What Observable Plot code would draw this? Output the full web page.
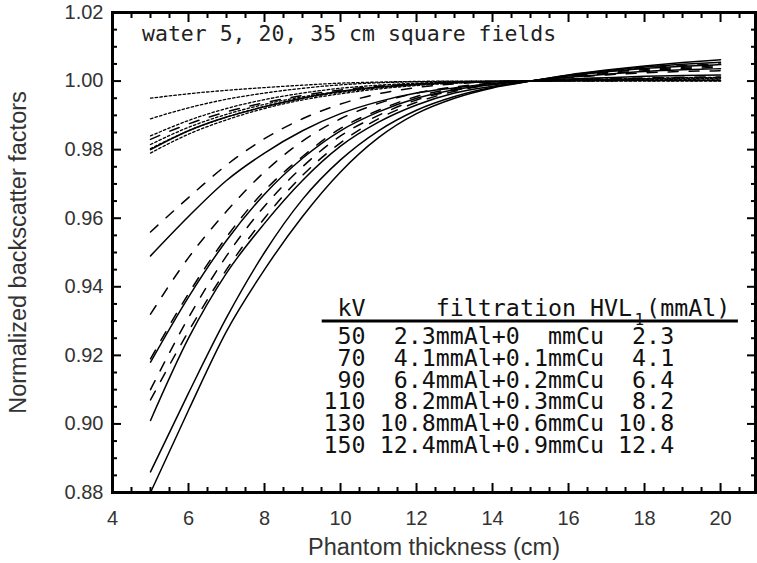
<!DOCTYPE html>
<html>
<head>
<meta charset="utf-8">
<script src="https://cdn.jsdelivr.net/npm/d3@7"></script>
<script src="https://cdn.jsdelivr.net/npm/@observablehq/plot@0.6"></script>
<style>
  html, body { margin: 0; padding: 0; background: #fff; }
  #chart svg { display: block; }
</style>
</head>
<body>
<div id="chart"></div>
<script>
// ---- data ----
const thickness = [5, 6, 7, 8, 9, 10, 11, 12, 13, 14, 15, 16, 17, 18, 19, 20];
const kV = [50, 70, 90, 110, 130, 150];
const alFilter = ["2.3", "4.1", "6.4", "8.2", "10.8", "12.4"];
const cuFilter = ["0", "0.1", "0.2", "0.3", "0.6", "0.9"];
const hvl1 = ["2.3", "4.1", "6.4", "8.2", "10.8", "12.4"];
const fieldSizes = [5, 20, 35];
const xTicks = [4, 6, 8, 10, 12, 14, 16, 18, 20];
const yTicks = [0.88, 0.90, 0.92, 0.94, 0.96, 0.98, 1.00, 1.02];
const titleText = "water 5, 20, 35 cm square fields";
const xLabel = "Phantom thickness (cm)";
const yLabel = "Normalized backscatter factors";

// 5 cm square field (dotted), one row per kV
const field5 = [
  [0.995, 0.9963, 0.9973, 0.9981, 0.9988, 0.9994, 0.9997, 0.9999, 1.0, 1.0, 1.0, 1.0, 1.0, 1.0, 1.0, 1.0],
  [0.989, 0.9922, 0.9947, 0.9965, 0.9979, 0.9989, 0.9995, 0.9998, 0.9999, 1.0, 1.0, 1.0001, 1.0002, 1.0002, 1.0003, 1.0003],
  [0.984, 0.9885, 0.992, 0.9946, 0.9965, 0.9979, 0.9988, 0.9994, 0.9997, 0.9999, 1.0, 1.0002, 1.0003, 1.0004, 1.0005, 1.0006],
  [0.9815, 0.9865, 0.9903, 0.9932, 0.9954, 0.997, 0.9982, 0.999, 0.9995, 0.9998, 1.0, 1.0002, 1.0004, 1.0006, 1.0007, 1.0008],
  [0.9803, 0.9855, 0.9895, 0.9926, 0.995, 0.9967, 0.998, 0.9989, 0.9995, 0.9998, 1.0, 1.0003, 1.0005, 1.0007, 1.0009, 1.001],
  [0.979, 0.9845, 0.9887, 0.992, 0.9945, 0.9963, 0.9977, 0.9987, 0.9994, 0.9998, 1.0, 1.0003, 1.0006, 1.0008, 1.001, 1.0011]
];
// 20 cm square field (dashed)
const field20 = [
  [0.983, 0.9875, 0.991, 0.9937, 0.9958, 0.9974, 0.9985, 0.9992, 0.9996, 0.9999, 1.0, 1.0001, 1.0001, 1.0002, 1.0002, 1.0002],
  [0.956, 0.966, 0.9755, 0.9832, 0.989, 0.9933, 0.9963, 0.9981, 0.9992, 0.9998, 1.0, 1.0004, 1.0007, 1.0009, 1.0011, 1.0012],
  [0.932, 0.9485, 0.962, 0.9735, 0.9825, 0.989, 0.9935, 0.9965, 0.9983, 0.9994, 1.0, 1.001, 1.0018, 1.0024, 1.0028, 1.003],
  [0.919, 0.938, 0.9545, 0.968, 0.978, 0.9862, 0.9915, 0.9955, 0.9978, 0.9992, 1.0, 1.0012, 1.0022, 1.003, 1.0036, 1.004],
  [0.910, 0.931, 0.949, 0.9635, 0.975, 0.984, 0.990, 0.9945, 0.9973, 0.9991, 1.0, 1.0014, 1.0025, 1.0034, 1.004, 1.0045],
  [0.907, 0.927, 0.945, 0.960, 0.9725, 0.982, 0.989, 0.9938, 0.997, 0.999, 1.0, 1.0015, 1.0028, 1.0038, 1.0045, 1.005]
];
// 35 cm square field (solid)
const field35 = [
  [0.980, 0.9855, 0.9895, 0.9925, 0.995, 0.997, 0.9983, 0.9991, 0.9996, 0.9999, 1.0, 1.0001, 1.0001, 1.0002, 1.0002, 1.0002],
  [0.949, 0.9605, 0.971, 0.979, 0.9855, 0.9905, 0.994, 0.9965, 0.998, 0.9993, 1.0, 1.0006, 1.001, 1.0014, 1.0016, 1.0018],
  [0.918, 0.937, 0.9535, 0.967, 0.9775, 0.9855, 0.991, 0.995, 0.9975, 0.999, 1.0, 1.0011, 1.002, 1.0028, 1.0033, 1.0036],
  [0.901, 0.925, 0.944, 0.9585, 0.971, 0.981, 0.988, 0.993, 0.9965, 0.9985, 1.0, 1.0015, 1.0027, 1.0037, 1.0043, 1.0048],
  [0.886, 0.909, 0.931, 0.950, 0.9655, 0.977, 0.9855, 0.9915, 0.9955, 0.9982, 1.0, 1.0017, 1.003, 1.0041, 1.0049, 1.0055],
  [0.880, 0.904, 0.927, 0.945, 0.9605, 0.9735, 0.9835, 0.9905, 0.995, 0.998, 1.0, 1.0018, 1.0032, 1.0044, 1.0054, 1.0062]
];

// ---- build tidy tables ----
function tidy(field, size) {
  const out = [];
  field.forEach((series, i) => {
    series.forEach((v, j) => out.push({field: size, kv: kV[i], x: thickness[j], y: v}));
  });
  return out;
}
const rows5 = tidy(field5, fieldSizes[0]);
const rows20 = tidy(field20, fieldSizes[1]);
const rows35 = tidy(field35, fieldSizes[2]);

const header = " kV     filtration HVL (mmAl)";
const tableRows = kV.map((k, i) =>
  String(k).padStart(3) + " " +
  (alFilter[i] + "mmAl+" + cuFilter[i].padEnd(3) + "mmCu").padStart(16) + " " +
  hvl1[i].padStart(4)
).join("\n");

const xMinor = d3.range(8, 42).map(i => i / 2).filter(v => v % 2 !== 0);
const yMinor = d3.range(0, 29).map(i => 0.88 + i * 0.005).filter((v, i) => i % 4 !== 0);

const mono = "'DejaVu Sans Mono', monospace";
const tickStyle = {stroke: "black", strokeWidth: 2, fill: "none", label: null};

const chart = Plot.plot({
  width: 757,
  height: 563,
  marginLeft: 112,
  marginRight: 2,
  marginTop: 12,
  marginBottom: 71,
  style: {fontFamily: "'Liberation Sans', Arial, sans-serif", fontSize: "20px", background: "#fff", color: "black"},
  x: {domain: [4, 20.92]},
  y: {domain: [0.88, 1.02]},
  marks: [
    Plot.line(rows5, {x: "x", y: "y", z: "kv", stroke: "black", strokeWidth: 1.3, strokeDasharray: "2.5,2.2", curve: "monotone-x"}),
    Plot.line(rows20, {x: "x", y: "y", z: "kv", stroke: "black", strokeWidth: 1.5, strokeDasharray: "10,11", curve: "monotone-x"}),
    Plot.line(rows35, {x: "x", y: "y", z: "kv", stroke: "black", strokeWidth: 1.5, curve: "monotone-x"}),

    // tick labels
    Plot.axisX({ticks: xTicks, tickSize: 0, tickPadding: 18, fontSize: 20, fill: "#333", label: null, tickFormat: d => String(d)}),
    Plot.axisY({ticks: yTicks, tickSize: 0, tickPadding: 9, fontSize: 20, fill: "#333", label: null, tickFormat: d3.format(".2f")}),
    // inward ticks on all four sides
    Plot.axisX({ticks: xTicks, tickSize: -9, ...tickStyle}),
    Plot.axisX({ticks: xMinor, tickSize: -5, ...tickStyle}),
    Plot.axisX({anchor: "top", ticks: xTicks, tickSize: -9, ...tickStyle}),
    Plot.axisX({anchor: "top", ticks: xMinor, tickSize: -5, ...tickStyle}),
    Plot.axisY({ticks: yTicks, tickSize: -9, ...tickStyle}),
    Plot.axisY({ticks: yMinor, tickSize: -5, ...tickStyle}),
    Plot.axisY({anchor: "right", ticks: yTicks, tickSize: -9, ...tickStyle}),
    Plot.axisY({anchor: "right", ticks: yMinor, tickSize: -5, ...tickStyle}),

    Plot.frame({stroke: "black", strokeWidth: 3}),

    // axis titles
    Plot.text([yLabel], {frameAnchor: "left", dx: -94, rotate: -90, textAnchor: "middle", lineAnchor: "middle", fontSize: 23.5, fill: "#333"}),
    Plot.text([xLabel], {frameAnchor: "bottom", dy: 55, textAnchor: "middle", lineAnchor: "middle", fontSize: 23.5, fill: "#333"}),

    // in-plot annotations
    Plot.text([titleText], {x: 4.776, y: 1.0118, textAnchor: "start", lineAnchor: "bottom", fontFamily: mono, fontSize: 21.5, fill: "#222"}),
    Plot.text([header], {x: 9.553, y: 0.9316, textAnchor: "start", lineAnchor: "bottom", fontFamily: mono, fontSize: 23.3, fill: "#111"}),
    Plot.ruleY([0.93], {x1: 9.518, x2: 20.47, stroke: "black", strokeWidth: 3}),
    Plot.text(["1"], {x: 17.86, y: 0.9290, textAnchor: "middle", lineAnchor: "bottom", fontFamily: mono, fontSize: 16, fill: "#111"}),
    Plot.text([tableRows], {x: 9.553, y: 0.8916, textAnchor: "start", lineAnchor: "bottom", lineHeight: 0.9313, fontFamily: mono, fontSize: 23.3, fill: "#111"})
  ]
});
document.getElementById("chart").appendChild(chart);
</script>
</body>
</html>
